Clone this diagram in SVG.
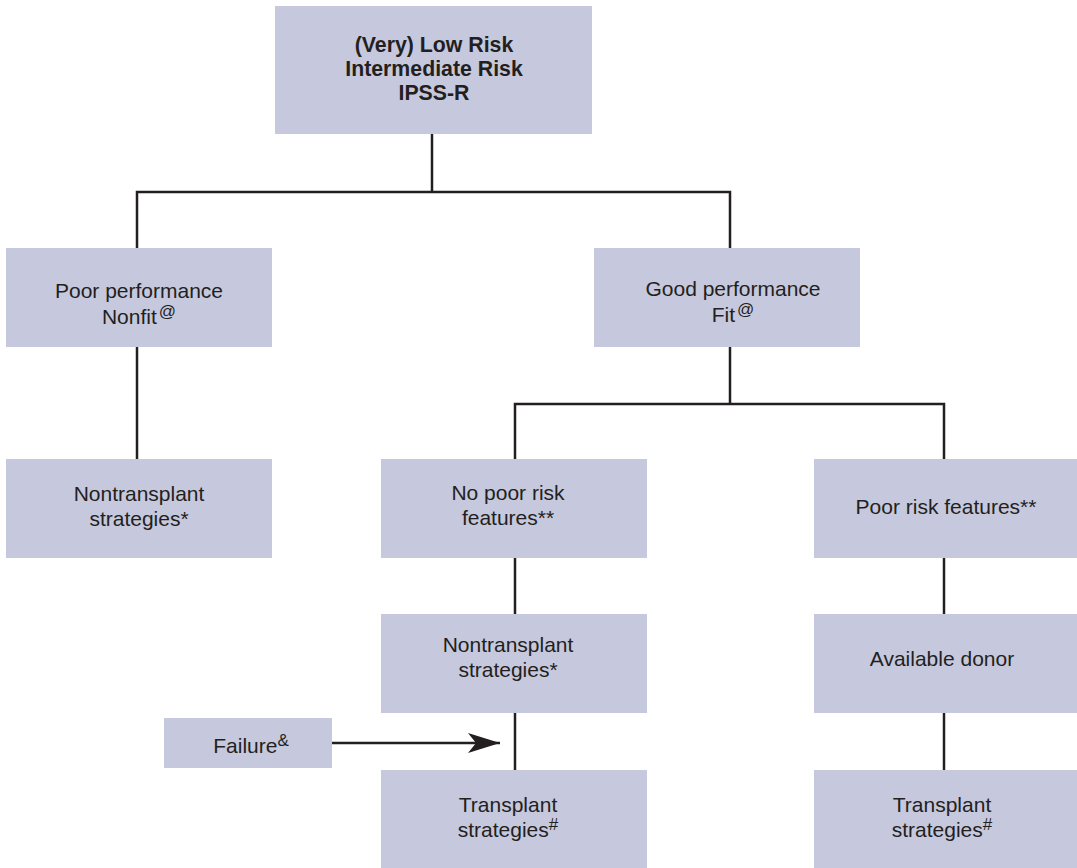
<svg xmlns="http://www.w3.org/2000/svg" width="1077" height="868" viewBox="0 0 1077 868">
<style>
.box{fill:#c6c8dd;}
.t{font-family:"Liberation Sans",Arial,sans-serif;font-size:21px;fill:#231f20;text-anchor:middle;}
.b{font-weight:bold;font-size:21.3px;}
.sup{font-size:17px;}
.c{fill:none;stroke:#231f20;stroke-width:2.5;}
</style>
<defs>
<marker id="arr" markerUnits="userSpaceOnUse" markerWidth="34" markerHeight="22" refX="32" refY="11" orient="auto">
<path d="M0,1 L32,11 L0,21 L8,11 Z" fill="#231f20"/>
</marker>
</defs>
<rect width="1077" height="868" fill="#ffffff"/>
<g id="connectors">
<path class="c" d="M432,134 V192"/>
<path class="c" d="M137,248 V192 H730 V248"/>
<path class="c" d="M137,347 V459"/>
<path class="c" d="M730,347 V404"/>
<path class="c" d="M515,459 V404 H944 V459"/>
<path class="c" d="M515,558 V614"/>
<path class="c" d="M515,713 V770"/>
<path class="c" d="M944,558 V614"/>
<path class="c" d="M944,713 V770"/>
<path class="c" d="M332,743 H500" marker-end="url(#arr)"/>
</g>
<g id="n-top">
<rect class="box" x="275" y="6" width="317" height="128"/>
<text class="t b" x="434" y="52">(Very) Low Risk</text>
<text class="t b" x="434" y="76">Intermediate Risk</text>
<text class="t b" x="434" y="100">IPSS-R</text>
</g>
<g id="n-poorperf">
<rect class="box" x="6" y="248" width="266" height="99"/>
<text class="t" x="139" y="298">Poor performance</text>
<text class="t" x="139" y="324">Nonfit<tspan class="sup" dx="2" dy="-7">@</tspan></text>
</g>
<g id="n-goodperf">
<rect class="box" x="594" y="248" width="266" height="99"/>
<text class="t" x="733" y="296">Good performance</text>
<text class="t" x="733" y="322">Fit<tspan class="sup" dx="2" dy="-7">@</tspan></text>
</g>
<g id="n-nontx-left">
<rect class="box" x="6" y="459" width="266" height="99"/>
<text class="t" x="139" y="501">Nontransplant</text>
<text class="t" x="139" y="526">strategies*</text>
</g>
<g id="n-nopoorrisk">
<rect class="box" x="381" y="459" width="266" height="99"/>
<text class="t" x="508" y="500">No poor risk</text>
<text class="t" x="508" y="525">features**</text>
</g>
<g id="n-poorrisk">
<rect class="box" x="814" y="459" width="263" height="99"/>
<text class="t" x="946" y="514">Poor risk features**</text>
</g>
<g id="n-nontx-mid">
<rect class="box" x="381" y="614" width="266" height="99"/>
<text class="t" x="508" y="652">Nontransplant</text>
<text class="t" x="508" y="677">strategies*</text>
</g>
<g id="n-donor">
<rect class="box" x="814" y="614" width="263" height="99"/>
<text class="t" x="942" y="666">Available donor</text>
</g>
<g id="n-failure">
<rect class="box" x="164" y="718" width="168" height="50"/>
<text class="t" x="251" y="753">Failure<tspan class="sup" dy="-7">&amp;</tspan></text>
</g>
<g id="n-tx-mid">
<rect class="box" x="381" y="770" width="266" height="98"/>
<text class="t" x="508" y="812">Transplant</text>
<text class="t" x="508" y="837">strategies<tspan class="sup" dy="-7">#</tspan></text>
</g>
<g id="n-tx-right">
<rect class="box" x="814" y="770" width="263" height="98"/>
<text class="t" x="942" y="812">Transplant</text>
<text class="t" x="942" y="837">strategies<tspan class="sup" dy="-7">#</tspan></text>
</g>
</svg>
